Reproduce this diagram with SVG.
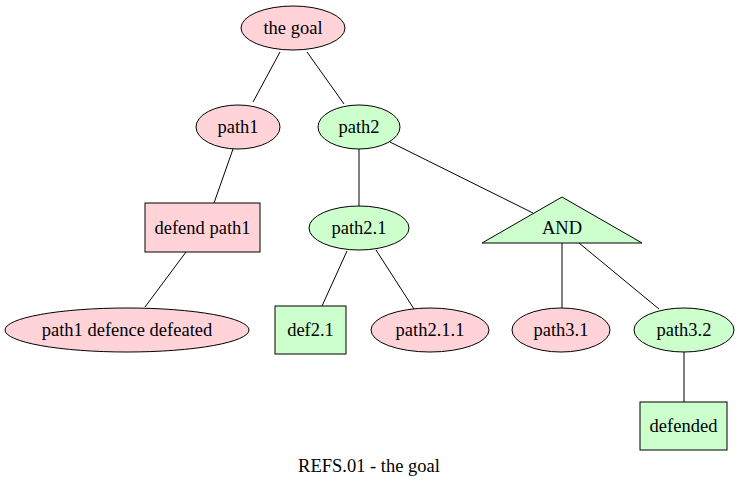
<svg xmlns="http://www.w3.org/2000/svg" width="739" height="487" viewBox="0 0 739 487">
<style>
.bad{fill:#ffd3d8;stroke:#000;stroke-width:1}
.good{fill:#ccffcc;stroke:#000;stroke-width:1}
text{font-family:"Liberation Serif","Times New Roman",serif;font-size:18.5px;text-anchor:middle;fill:#000}
.e line{stroke:#000;stroke-width:1}
</style>
<rect width="739" height="487" fill="#fff"/>
<g class="e" id="edges">
<line x1="280" y1="52" x2="253" y2="102"/>
<line x1="307" y1="52" x2="344" y2="104"/>
<line x1="233" y1="149" x2="214" y2="203"/>
<line x1="186" y1="252" x2="145" y2="307"/>
<line x1="359" y1="149" x2="359" y2="206"/>
<line x1="390" y1="142" x2="533" y2="213"/>
<line x1="347" y1="251" x2="322" y2="306"/>
<line x1="376" y1="250" x2="414" y2="309"/>
<line x1="562" y1="243" x2="562" y2="308"/>
<line x1="579" y1="243" x2="659" y2="309"/>
<line x1="684" y1="352" x2="684" y2="402"/>
</g>
<g id="goal"><ellipse class="bad" cx="293" cy="28" rx="52" ry="22"/><text x="293" y="34">the goal</text></g>
<g id="path1"><ellipse class="bad" cx="238" cy="127" rx="42" ry="22"/><text x="238" y="133">path1</text></g>
<g id="path2"><ellipse class="good" cx="359" cy="127" rx="41" ry="22"/><text x="359" y="133">path2</text></g>
<g id="defendpath1"><rect class="bad" x="145" y="203" width="115" height="49"/><text x="202.5" y="234">defend path1</text></g>
<g id="defeated"><ellipse class="bad" cx="127" cy="330" rx="122" ry="22"/><text x="127" y="336">path1 defence defeated</text></g>
<g id="path2_1"><ellipse class="good" cx="359" cy="228" rx="50" ry="22"/><text x="359" y="234">path2.1</text></g>
<g id="and"><polygon class="good" points="562,197 642,243 482,243"/><text x="562" y="234">AND</text></g>
<g id="def2_1"><rect class="good" x="275" y="306" width="71" height="48"/><text x="310.5" y="336">def2.1</text></g>
<g id="path2_1_1"><ellipse class="bad" cx="430" cy="330" rx="59" ry="22"/><text x="430" y="336">path2.1.1</text></g>
<g id="path3_1"><ellipse class="bad" cx="561" cy="330" rx="49" ry="22"/><text x="561" y="336">path3.1</text></g>
<g id="path3_2"><ellipse class="good" cx="684" cy="330" rx="50" ry="22"/><text x="684" y="336">path3.2</text></g>
<g id="defended"><rect class="good" x="640" y="402" width="87" height="48"/><text x="683.5" y="432">defended</text></g>
<text x="369" y="472">REFS.01 - the goal</text>
</svg>
